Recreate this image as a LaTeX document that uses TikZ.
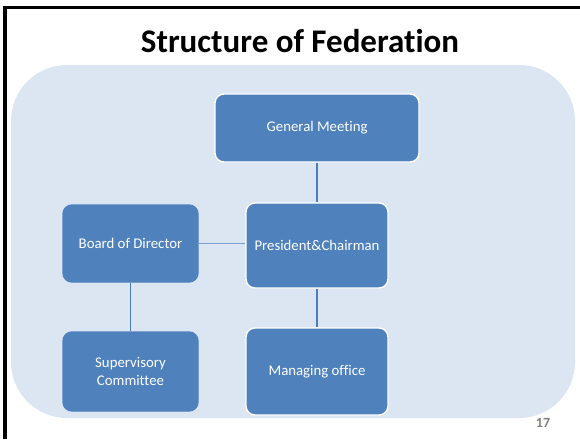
\documentclass[tikz,border=0pt]{standalone}
\usepackage{fontspec}
\setmainfont{Carlito}[Ligatures=NoCommon]
\begin{document}
\begin{tikzpicture}[x=1pt,y=-1pt,
  box/.style={draw=boxline,line width=1.4pt,fill=boxblue,rounded corners=9pt,
    text=white,font=\fontsize{14.8}{18}\selectfont,align=center,inner sep=0pt},
  plainbox/.style={box,draw=boxblue},
  link/.style={draw=linkblue,line width=1.4pt}]
\definecolor{boxblue}{HTML}{4F81BD}
\definecolor{boxline}{HTML}{FFFFFF}
\definecolor{linkblue}{HTML}{4A7EBB}
\definecolor{sidelink}{HTML}{7A9FD0}
\definecolor{panel}{HTML}{DCE6F2}
\useasboundingbox (0,0) rectangle (580,439);
\fill[white] (0,0) rectangle (580,439);
% page frame
\draw[black,line width=3.5pt] (5,439) -- (5,7.5) -- (580,7.5);
% title
\node (title) at (300,41) {\fontsize{33}{38}\selectfont\bfseries Structure of Federation};
% light panel
\fill[panel,rounded corners=56pt] (11,65) rectangle (575,418);
% org chart
\node[box,minimum width=204pt,minimum height=68pt] (gm) at (317,128) {General Meeting};
\node[box,minimum width=142pt,minimum height=85pt] (pc) at (317,245.5) {President\&Chairman};
\node[plainbox,minimum width=135pt,minimum height=77pt] (bd) at (130.5,243.5) {Board of Director};
\node[plainbox,minimum width=135pt,minimum height=79pt] (sc) at (130.5,371.5) {Supervisory\\Committee};
\node[box,minimum width=142pt,minimum height=87pt] (mo) at (317,371.5) {Managing office};
\draw[link] (gm.south) -- (pc.north);
\draw[link] (pc.south) -- (mo.north);
\draw[link] (bd.south) -- (sc.north);
\draw[link,draw=sidelink] (bd.east) -- (bd.east -| pc.west);
% page number
\node[text=black!50,font=\fontsize{14}{16}\selectfont\bfseries] (num) at (543,423) {17};
\end{tikzpicture}
\end{document}
